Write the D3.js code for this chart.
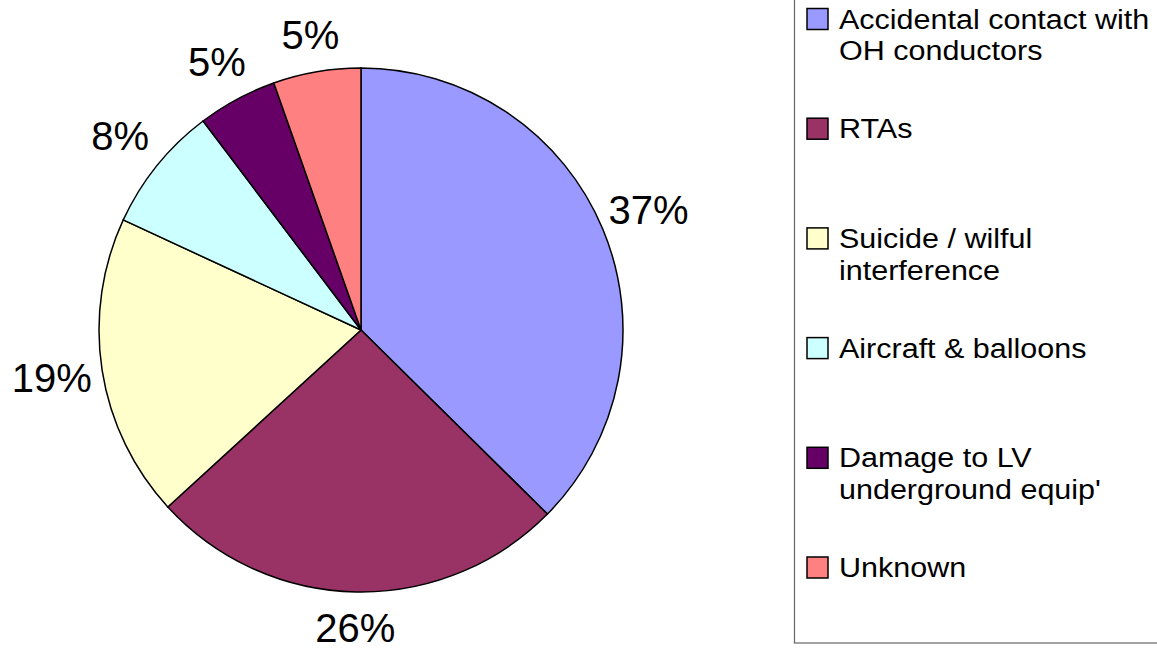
<!DOCTYPE html>
<html>
<head>
<meta charset="utf-8">
<style>
  body { margin: 0; background: #fff; font-family: "Liberation Sans", Arial, sans-serif; }
  .slice path { stroke: #000; stroke-width: 1.5; }
  .pct { font-size: 40px; fill: #000; }
  .legend text { font-size: 28px; fill: #000; }
</style>
</head>
<body>
<script src="https://d3js.org/d3.v7.min.js"></script>
<script>
// data
var categories = ["Accidental contact with|OH conductors", "RTAs", "Suicide / wilful|interference",
                  "Aircraft & balloons", "Damage to LV|underground equip'", "Unknown"];
var values = [37.4, 25.8, 18.7, 7.8, 4.9, 5.4];
var colours = ["#9999FF", "#993366", "#FFFFCC", "#CCFFFF", "#660066", "#FF8080"];

var width = 1157, height = 649;
var cx = 361, cy = 330, radius = 262;

var svg = d3.select("body").append("svg")
    .attr("width", width)
    .attr("height", height);

var total = d3.sum(values);

var pie = d3.pie().sort(null).value(function(d) { return d; });
var arc = d3.arc().innerRadius(0).outerRadius(radius);

// labels sit further out on the sides, where the text is wider than tall
function labelPos(d) {
  var a = (d.startAngle + d.endAngle) / 2;
  var r = 297 + 16 * Math.abs(Math.sin(a));
  return [r * Math.sin(a), -r * Math.cos(a)];
}

var g = svg.append("g")
    .attr("transform", "translate(" + cx + "," + cy + ")");

var slices = g.selectAll("g.slice")
    .data(pie(values))
    .enter().append("g")
    .attr("class", "slice");

slices.append("path")
    .attr("d", arc)
    .style("fill", function(d, i) { return colours[i]; });

slices.append("text")
    .attr("class", "pct")
    .attr("transform", function(d) { return "translate(" + labelPos(d) + ")"; })
    .attr("text-anchor", "middle")
    .attr("dy", "0.36em")
    .text(function(d) { return Math.round(d.value / total * 100) + "%"; });

// legend
var legend = svg.append("g").attr("class", "legend");

legend.append("rect")
    .attr("x", 794.5).attr("y", -5)
    .attr("width", 420).attr("height", 648)
    .style("fill", "#fff")
    .style("stroke", "#666")
    .style("stroke-width", 1.2);

var item = d3.scaleLinear().domain([0, categories.length - 1]).range([19, 567.5]);

var items = legend.selectAll("g.item")
    .data(categories)
    .enter().append("g")
    .attr("class", "item")
    .attr("transform", function(d, i) { return "translate(806," + item(i) + ")"; });

items.append("rect")
    .attr("x", 1).attr("y", -10.5)
    .attr("width", 21).attr("height", 21)
    .style("fill", function(d, i) { return colours[i]; })
    .style("stroke", "#000")
    .style("stroke-width", 1.5);

items.append("text")
    .attr("transform", "translate(33,9.5) scale(1.09,1)")
    .each(function(d) {
      var lines = d.split("|");
      var t = d3.select(this);
      lines.forEach(function(l, j) {
        t.append("tspan").attr("x", 0).attr("dy", j === 0 ? 0 : 32).text(l);
      });
    });
</script>
</body>
</html>
